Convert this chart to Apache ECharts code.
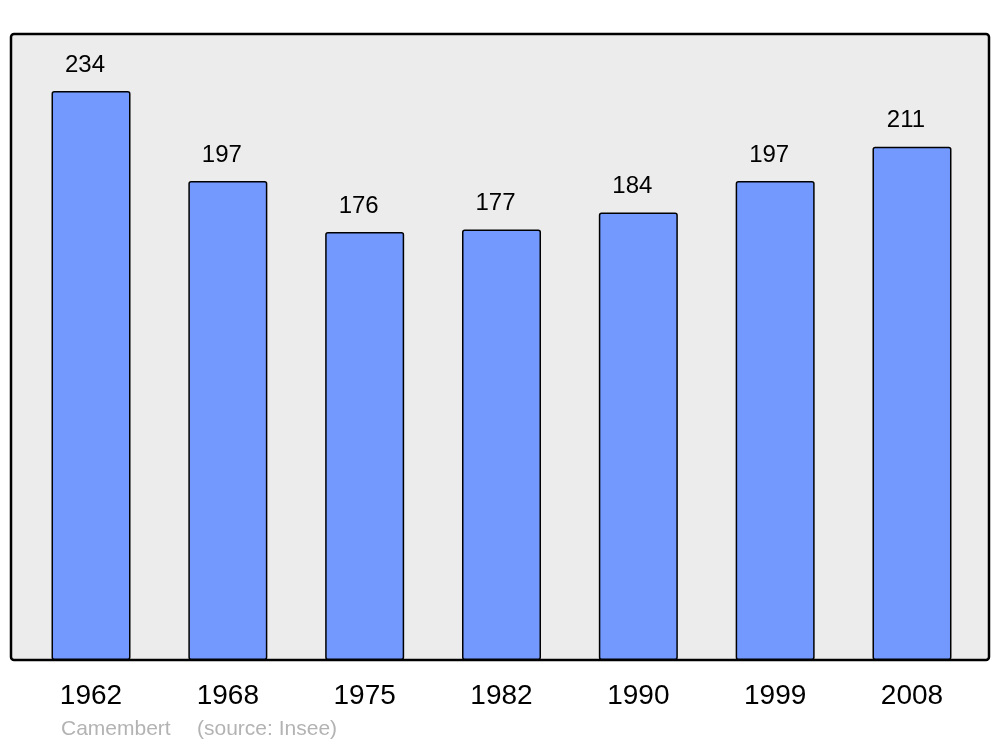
<!DOCTYPE html>
<html>
<head>
<meta charset="utf-8">
<script src="https://cdn.jsdelivr.net/npm/echarts@6/dist/echarts.min.js"></script>
<style>html,body{margin:0;padding:0;background:#fff;}#c{width:1000px;height:747px;}</style>
</head>
<body>
<div id="c"></div>
<script>
const categories = ['1962', '1968', '1975', '1982', '1990', '1999', '2008'];
const population = [234, 197, 176, 177, 184, 197, 211];
const sourceName = 'Camembert';
const sourceNote = '(source: Insee)';

const chart = echarts.init(document.getElementById('c'), null, {renderer: 'canvas'});
chart.setOption({
  animation: false,
  backgroundColor: '#ffffff',
  textStyle: {fontFamily: '"Liberation Sans", Arial, sans-serif'},
  grid: {left: 22.6, right: 19.6, top: 34, bottom: 87, containLabel: false},
  graphic: [
    {type: 'rect', z: -10, shape: {x: 11, y: 34, width: 978, height: 626, r: 3},
     style: {fill: '#ececec', stroke: '#000000', lineWidth: 2.5}},
    {type: 'text', left: 61, top: 719, style: {text: sourceName, fill: '#b3b3b3',
     font: '21px "Liberation Sans", Arial, sans-serif'}},
    {type: 'text', left: 197, top: 719, style: {text: sourceNote, fill: '#b3b3b3',
     font: '21px "Liberation Sans", Arial, sans-serif'}}
  ],
  xAxis: {
    type: 'category', data: categories,
    axisLine: {show: false}, axisTick: {show: false},
    axisLabel: {color: '#000', fontSize: 28, margin: 22, fontFamily: '"Liberation Sans", Arial, sans-serif'}
  },
  yAxis: {
    type: 'value', min: 0, max: 257.4,
    show: false, splitLine: {show: false}
  },
  series: [{
    type: 'bar', data: population, barWidth: 79,
    itemStyle: {color: '#7399ff', borderColor: '#000', borderWidth: 1.5, borderRadius: 2},
    label: {show: true, position: 'top', distance: 14, offset: [-6, 0], color: '#000', fontSize: 24,
      fontFamily: '"Liberation Sans", Arial, sans-serif'}
  }]
});
</script>
</body>
</html>
